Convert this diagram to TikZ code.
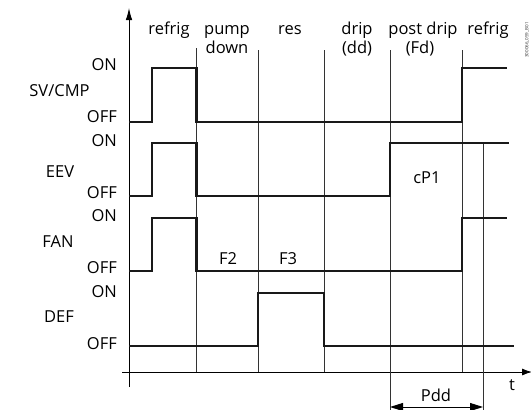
\documentclass[tikz,border=0pt]{standalone}
\usepackage{fontspec}
\setmainfont{Open Sans}
\usetikzlibrary{arrows.meta}
\begin{document}
\begin{tikzpicture}[x=1pt,y=-1pt,
  sig/.style={line width=2.6pt,line join=miter,black!90},
  grid/.style={line width=0.7pt,black!80},
  axis/.style={line width=0.9pt,black},
  lbl/.style={font=\fontsize{16.5}{19}\selectfont,inner sep=0pt},
  lvl/.style={lbl,anchor=east},
  phase/.style={lbl,anchor=base}]
\useasboundingbox (0,0) rectangle (531,410);
% axes
\coordinate (yb) at (129,387);
\coordinate (yt) at (129,8);
\coordinate (xl) at (122,372);
\coordinate (xr) at (532,372);
\draw[axis,-{Latex[length=12pt,width=6.5pt]}] (yb) -- (yt);
\draw[axis,-{Latex[length=10pt,width=7pt]}] (xl) -- (xr);
% phase grid lines
\coordinate (g1t) at (196.5,48); \coordinate (g1b) at (196.5,372);
\coordinate (g2t) at (258,50);   \coordinate (g2b) at (258,372);
\coordinate (g3t) at (324,50);   \coordinate (g3b) at (324,372);
\coordinate (g4t) at (390,50);   \coordinate (g4b) at (390,410);
\coordinate (g5t) at (462,50);   \coordinate (g5b) at (462,372);
\coordinate (g6t) at (483,143);  \coordinate (g6b) at (483,410);
\foreach \i in {1,...,6} \draw[grid] (g\i t) -- (g\i b);
% signals
\draw[sig] (129,122) -- (152,122) -- (152,68) -- (196.5,68) -- (196.5,122) -- (462,122) -- (462,68) -- (507,68);
\draw[sig] (129,196) -- (152,196) -- (152,143) -- (196.5,143) -- (196.5,196) -- (390,196) -- (390,143) -- (509,143);
\draw[sig] (129,271) -- (152,271) -- (152,218) -- (196.5,218) -- (196.5,271) -- (462,271) -- (462,218) -- (507,218);
\draw[sig] (129,346) -- (258,346) -- (258,293) -- (324,293) -- (324,346) -- (514,346);
% level labels
\node[lvl] (on1) at (117,64.5) {ON};
\node[lvl] (off1) at (117,117) {OFF};
\node[lvl] (on2) at (117,141) {ON};
\node[lvl] (off2) at (117,193) {OFF};
\node[lvl] (on3) at (117,216) {ON};
\node[lvl] (off3) at (117,268) {OFF};
\node[lvl] (on4) at (117,292) {ON};
\node[lvl] (off4) at (117,344) {OFF};
% signal names
\node[lbl] (svc) at (59.5,91) {SV/CMP};
\node[lbl] (eev) at (60,172) {EEV};
\node[lbl] (fan) at (58,242) {FAN};
\node[lbl] (def) at (59,317) {DEF};
% phase labels
\node[phase] (p1) at (169,34) {refrig};
\node[phase] (p2) at (227,34) {pump};
\node[phase] (p2b) at (227,53) {down};
\node[phase] (p3) at (290,34) {res};
\node[phase] (p4) at (357,34) {drip};
\node[phase] (p4b) at (357,53) {(dd)};
\node[phase] (p5) at (423,34) {post drip};
\node[phase] (p5b) at (420,53) {(Fd)};
\node[phase] (p6) at (488,34) {refrig};
% inner labels
\node[lbl] (cp1) at (427,178) {cP1};
\node[lbl] (f2) at (228,259) {F2};
\node[lbl] (f3) at (288,259) {F3};
\node[lbl] (t) at (512,385) {t};
\node[lbl] (pdd) at (436,395) {Pdd};
\coordinate (pa) at (390,407);
\coordinate (pb) at (483,407);
\draw[line width=0.9pt,{Stealth[length=13pt,width=8pt,inset=0pt]}-{Stealth[length=13pt,width=8pt,inset=0pt]}] (pa) -- (pb);
% code
\node[font=\fontsize{4.5}{5}\selectfont,rotate=90,inner sep=0pt,black!80] (code) at (527,40) {300066\_059\_B01};
\end{tikzpicture}
\end{document}
